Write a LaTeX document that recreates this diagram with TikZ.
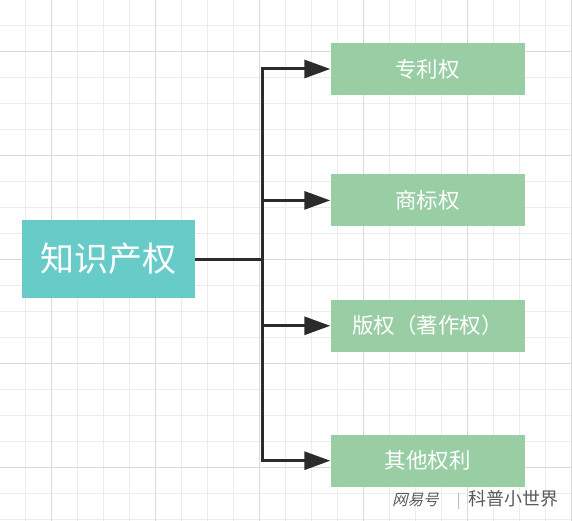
\documentclass[tikz,border=0pt]{standalone}
\usepackage{fontspec}
\usepackage{tikz}
\usetikzlibrary{arrows.meta, positioning}
\newfontfamily\cjk{Noto Sans CJK SC}
\newfontfamily\cjklogo[FakeSlant=0.25]{Noto Sans CJK SC}
\definecolor{rootteal}{RGB}{103,204,200}
\definecolor{leafgreen}{RGB}{153,205,164}
\definecolor{linedark}{RGB}{43,43,43}
\definecolor{gridminor}{RGB}{236,236,236}
\definecolor{gridmajor}{RGB}{218,218,218}

\begin{document}
\begin{tikzpicture}[x=1pt, y=-1pt,
    root/.style={rectangle, fill=rootteal, text=white, minimum width=173pt, minimum height=78pt, inner sep=0pt, font=\cjk\fontsize{34}{40}\selectfont},
    leaf/.style={rectangle, fill=leafgreen, text=white, minimum width=194pt, minimum height=52pt, inner sep=0pt, font=\cjk\fontsize{21.5}{26}\selectfont},
    link/.style={draw=linedark, line width=3pt},
    node distance=1cm]
        \useasboundingbox (0,0) rectangle (572,521);
        % background grid
        \foreach \g in {25.5,51.5,...,572} {
            \draw[gridminor, line width=0.9pt] (\g,0) -- (\g,521);
        }
        \foreach \g in {25.5,51.5,...,521} {
            \draw[gridminor, line width=0.9pt] (0,\g) -- (572,\g);
        }
        \foreach \g in {51.5,155.5,...,572} {
            \draw[gridmajor, line width=0.9pt] (\g,0) -- (\g,521);
        }
        \foreach \g in {51.5,155.5,...,521} {
            \draw[gridmajor, line width=0.9pt] (0,\g) -- (572,\g);
        }

        \node[root] (ip) at (108.5,259) {知识产权};
        \node[leaf] (patent) at (427.5,69) {专利权};
        \node[leaf] (trademark) [below = 79pt of patent] {商标权};
        \node[leaf] (copyright) [below = 73pt of trademark] {版权（著作权）};
        \node[leaf] (other) [below = 82.5pt of copyright] {其他权利};

        \coordinate (fork) at (262.5,259);

        \path[link] (ip) edge (fork);
        \draw[link, -{Triangle[length=26pt, width=18pt]}] (fork) |- (patent);
        \draw[link, -{Triangle[length=26pt, width=18pt]}] (fork) |- (trademark);
        \draw[link, -{Triangle[length=26pt, width=18pt]}] (fork) |- (copyright);
        \draw[link, -{Triangle[length=26pt, width=18pt]}] (fork) |- (other);

        % watermark
        \node[anchor=west, text=black!65, inner sep=0pt] (mark) at (392,500)
            {{\cjklogo\fontsize{15.5}{18}\selectfont 网易号}\hspace{18pt}{\color{black!45}\fontsize{16}{18}\selectfont |}\hspace{7pt}{\cjk\fontsize{18}{20}\selectfont 科普小世界}};
    \end{tikzpicture}
\end{document}
